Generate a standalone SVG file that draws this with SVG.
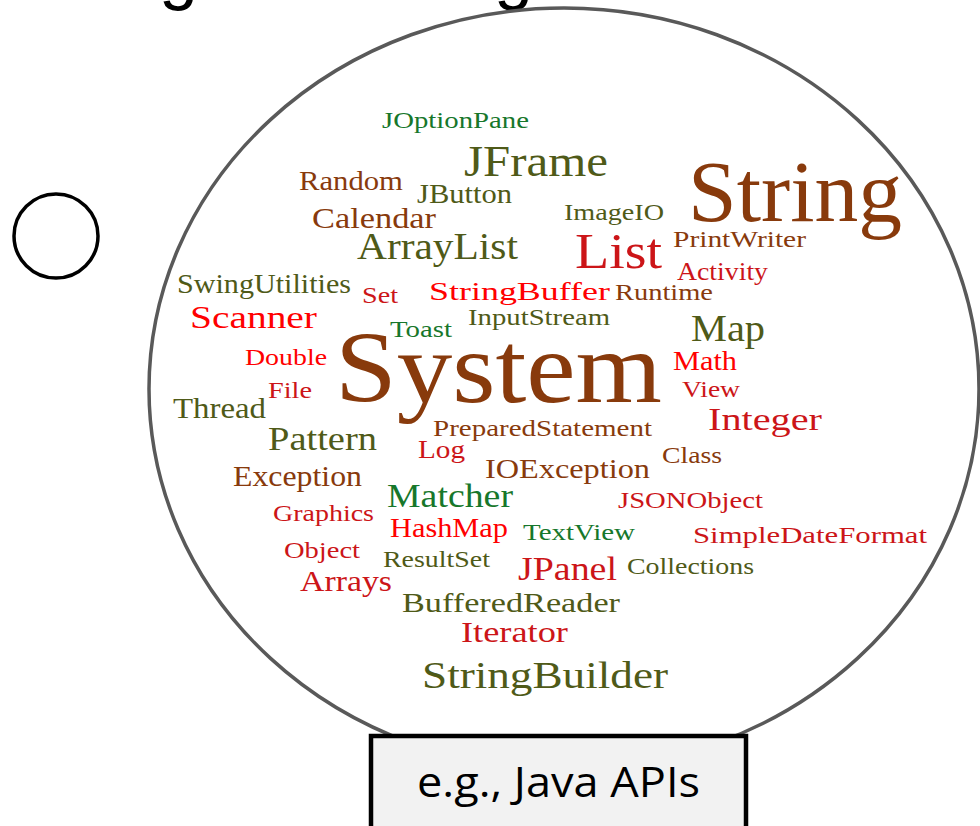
<svg xmlns="http://www.w3.org/2000/svg" width="980" height="826" viewBox="0 0 980 826">
<style>
.w{font-family:"Liberation Serif","Times New Roman",serif}
.br{fill:#883a0c}
.ol{fill:#4f5a18}
.gr{fill:#17772b}
.rd{fill:#ff0000}
.dr{fill:#cc1518}
.ttl{font-family:"Liberation Sans",Arial,sans-serif;font-size:70px;fill:#000}
</style>
<rect width="980" height="826" fill="#fff"/>
<g id="title-fragment">
<text class="ttl" x="159" y="-4">g</text>
<text class="ttl" x="494" y="-4">g</text>
</g>
<g id="small-circle">
<circle cx="56" cy="236" r="42" fill="none" stroke="#000" stroke-width="3.5"/>
</g>
<g id="cloud">
<ellipse cx="564" cy="389" rx="415" ry="381" fill="#fff" stroke="#595959" stroke-width="3.5"/>
<g id="words" class="w">
<text class="gr" x="382" y="128" font-size="24" textLength="147" lengthAdjust="spacingAndGlyphs">JOptionPane</text>
<text class="ol" x="464" y="176" font-size="44" textLength="144" lengthAdjust="spacingAndGlyphs">JFrame</text>
<text class="br" x="299" y="190" font-size="28" textLength="104" lengthAdjust="spacingAndGlyphs">Random</text>
<text class="ol" x="417" y="203" font-size="27" textLength="95" lengthAdjust="spacingAndGlyphs">JButton</text>
<text class="br" x="312" y="228" font-size="29" textLength="124" lengthAdjust="spacingAndGlyphs">Calendar</text>
<text class="ol" x="564" y="220" font-size="24" textLength="100" lengthAdjust="spacingAndGlyphs">ImageIO</text>
<text class="br" x="688" y="221" font-size="87" textLength="214" lengthAdjust="spacingAndGlyphs">String</text>
<text class="ol" x="357" y="259" font-size="37" textLength="161" lengthAdjust="spacingAndGlyphs">ArrayList</text>
<text class="dr" x="575" y="268" font-size="51" textLength="87" lengthAdjust="spacingAndGlyphs">List</text>
<text class="br" x="673" y="247" font-size="23" textLength="133" lengthAdjust="spacingAndGlyphs">PrintWriter</text>
<text class="dr" x="677" y="280" font-size="25" textLength="91" lengthAdjust="spacingAndGlyphs">Activity</text>
<text class="ol" x="177" y="293" font-size="27" textLength="174" lengthAdjust="spacingAndGlyphs">SwingUtilities</text>
<text class="dr" x="362" y="303" font-size="23" textLength="36" lengthAdjust="spacingAndGlyphs">Set</text>
<text class="rd" x="429" y="300" font-size="26" textLength="181" lengthAdjust="spacingAndGlyphs">StringBuffer</text>
<text class="br" x="615" y="300" font-size="23" textLength="98" lengthAdjust="spacingAndGlyphs">Runtime</text>
<text class="rd" x="190" y="328" font-size="32" textLength="127" lengthAdjust="spacingAndGlyphs">Scanner</text>
<text class="ol" x="468" y="325" font-size="23" textLength="142" lengthAdjust="spacingAndGlyphs">InputStream</text>
<text class="gr" x="390" y="337" font-size="24" textLength="62" lengthAdjust="spacingAndGlyphs">Toast</text>
<text class="ol" x="691" y="341" font-size="38" textLength="74" lengthAdjust="spacingAndGlyphs">Map</text>
<text class="rd" x="245" y="365" font-size="24" textLength="82" lengthAdjust="spacingAndGlyphs">Double</text>
<text class="br" x="335" y="402" font-size="101" textLength="327" lengthAdjust="spacingAndGlyphs">System</text>
<text class="rd" x="673" y="370" font-size="27" textLength="64" lengthAdjust="spacingAndGlyphs">Math</text>
<text class="dr" x="268" y="398" font-size="24" textLength="44" lengthAdjust="spacingAndGlyphs">File</text>
<text class="dr" x="682" y="397" font-size="23" textLength="58" lengthAdjust="spacingAndGlyphs">View</text>
<text class="ol" x="173" y="418" font-size="30" textLength="93" lengthAdjust="spacingAndGlyphs">Thread</text>
<text class="br" x="433" y="436" font-size="24" textLength="219" lengthAdjust="spacingAndGlyphs">PreparedStatement</text>
<text class="dr" x="708" y="430" font-size="32" textLength="114" lengthAdjust="spacingAndGlyphs">Integer</text>
<text class="ol" x="268" y="450" font-size="33" textLength="109" lengthAdjust="spacingAndGlyphs">Pattern</text>
<text class="dr" x="418" y="458" font-size="25" textLength="47" lengthAdjust="spacingAndGlyphs">Log</text>
<text class="br" x="662" y="463" font-size="23" textLength="60" lengthAdjust="spacingAndGlyphs">Class</text>
<text class="br" x="485" y="478" font-size="28" textLength="165" lengthAdjust="spacingAndGlyphs">IOException</text>
<text class="br" x="233" y="486" font-size="29" textLength="129" lengthAdjust="spacingAndGlyphs">Exception</text>
<text class="gr" x="387" y="507" font-size="33" textLength="126" lengthAdjust="spacingAndGlyphs">Matcher</text>
<text class="dr" x="618" y="508" font-size="24" textLength="145" lengthAdjust="spacingAndGlyphs">JSONObject</text>
<text class="dr" x="273" y="521" font-size="24" textLength="101" lengthAdjust="spacingAndGlyphs">Graphics</text>
<text class="rd" x="390" y="537" font-size="27" textLength="118" lengthAdjust="spacingAndGlyphs">HashMap</text>
<text class="gr" x="523" y="540" font-size="24" textLength="112" lengthAdjust="spacingAndGlyphs">TextView</text>
<text class="dr" x="693" y="543" font-size="24" textLength="234" lengthAdjust="spacingAndGlyphs">SimpleDateFormat</text>
<text class="dr" x="284" y="558" font-size="24" textLength="76" lengthAdjust="spacingAndGlyphs">Object</text>
<text class="ol" x="383" y="567" font-size="23" textLength="107" lengthAdjust="spacingAndGlyphs">ResultSet</text>
<text class="dr" x="518" y="580" font-size="34" textLength="99" lengthAdjust="spacingAndGlyphs">JPanel</text>
<text class="ol" x="627" y="574" font-size="24" textLength="127" lengthAdjust="spacingAndGlyphs">Collections</text>
<text class="dr" x="300" y="591" font-size="29" textLength="92" lengthAdjust="spacingAndGlyphs">Arrays</text>
<text class="ol" x="402" y="612" font-size="27" textLength="218" lengthAdjust="spacingAndGlyphs">BufferedReader</text>
<text class="dr" x="461" y="642" font-size="29" textLength="107" lengthAdjust="spacingAndGlyphs">Iterator</text>
<text class="ol" x="422" y="688" font-size="38" textLength="246" lengthAdjust="spacingAndGlyphs">StringBuilder</text>
</g>
</g>
<g id="label-box">
<rect x="371" y="736" width="375" height="100" fill="#f2f2f2" stroke="#000" stroke-width="4.5"/>
<text x="417" y="797" font-family="'Open Sans','Noto Sans',sans-serif" font-size="42" fill="#000" textLength="283" lengthAdjust="spacingAndGlyphs">e.g., Java APIs</text>
</g>
</svg>
